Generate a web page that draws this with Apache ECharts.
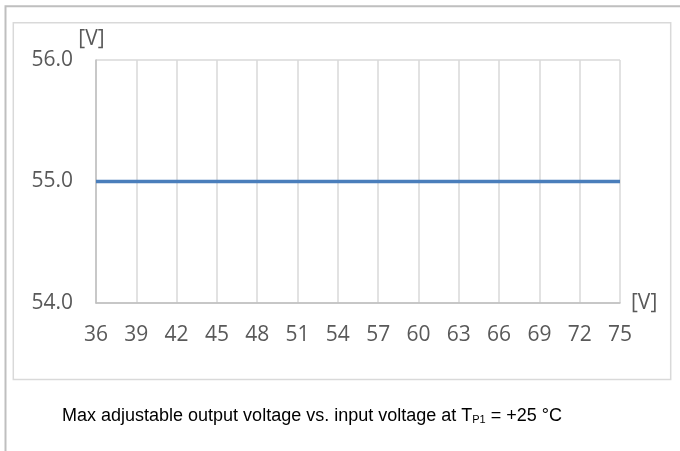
<!DOCTYPE html>
<html><head><meta charset="utf-8">
<script src="https://cdn.jsdelivr.net/npm/echarts@6/dist/echarts.min.js"></script>
<style>html,body{margin:0;padding:0;background:#fff}#c{width:680px;height:451px}</style>
</head><body><div id="c"></div>
<script>
var inputVoltage = [36, 39, 42, 45, 48, 51, 54, 57, 60, 63, 66, 69, 72, 75];
var maxOutputVoltage = [55.0, 55.0, 55.0, 55.0, 55.0, 55.0, 55.0, 55.0, 55.0, 55.0, 55.0, 55.0, 55.0, 55.0];
var yTicks = [54.0, 55.0, 56.0];
var captionMain = 'Max adjustable output voltage vs. input voltage at T';
var captionSub = 'P1';
var captionEnd = ' = +25 °C';

var chart = echarts.init(document.getElementById('c'), null, {renderer: 'canvas'});
var labelFont = {fontFamily: 'Open Sans', fontSize: 21, color: '#595959'};
chart.setOption({
  animation: false,
  grid: {left: 96, top: 60, right: 60, bottom: 148, containLabel: false},
  xAxis: {
    type: 'value', min: 36, max: 75, interval: 3,
    name: '[V]', nameLocation: 'end', nameGap: 11,
    nameTextStyle: Object.assign({verticalAlign: 'middle'}, labelFont),
    axisLine: {show: true, lineStyle: {color: '#bfbfbf', width: 1.5}},
    axisTick: {show: false},
    axisLabel: Object.assign({margin: 22}, labelFont),
    splitLine: {show: true, lineStyle: {color: '#d9d9d9', width: 1.5}}
  },
  yAxis: {
    type: 'value', min: yTicks[0], max: yTicks[yTicks.length - 1], interval: 1,
    name: '[V]', nameLocation: 'end', nameGap: 7,
    nameTextStyle: Object.assign({align: 'center', padding: [0, 9, 0, 0]}, labelFont),
    axisLine: {show: true, lineStyle: {color: '#bfbfbf', width: 1.5}},
    axisTick: {show: false},
    axisLabel: Object.assign({margin: 23, formatter: function (v) { return v.toFixed(1); }}, labelFont),
    splitLine: {show: true, lineStyle: {color: '#d9d9d9', width: 1.5}}
  },
  series: [{
    type: 'line',
    data: inputVoltage.map(function (x, i) { return [x, maxOutputVoltage[i]]; }),
    showSymbol: false, symbol: 'none',
    lineStyle: {color: '#4a7ebb', width: 3.5},
    z: 5
  }],
  graphic: [
    {type: 'polyline', shape: {points: [[680, 6.3], [5.5, 6.3], [5.5, 451]]}, style: {stroke: '#bfbfbf', lineWidth: 2, fill: null}, silent: true},
    {type: 'rect', shape: {x: 13.3, y: 22.7, width: 657.4, height: 356.7}, style: {stroke: '#d9d9d9', lineWidth: 1.5, fill: null}, silent: true},
    {type: 'text', left: 62, top: 407, style: {
      text: '{m|' + captionMain + '}{s|' + captionSub + '}{m|' + captionEnd + '}',
      rich: {
        m: {fontFamily: 'Liberation Sans', fontSize: 18, fill: '#000', verticalAlign: 'bottom', lineHeight: 21},
        s: {fontFamily: 'Liberation Sans', fontSize: 11, fill: '#000', verticalAlign: 'bottom', lineHeight: 17}
      }
    }, silent: true}
  ]
});
</script></body></html>
